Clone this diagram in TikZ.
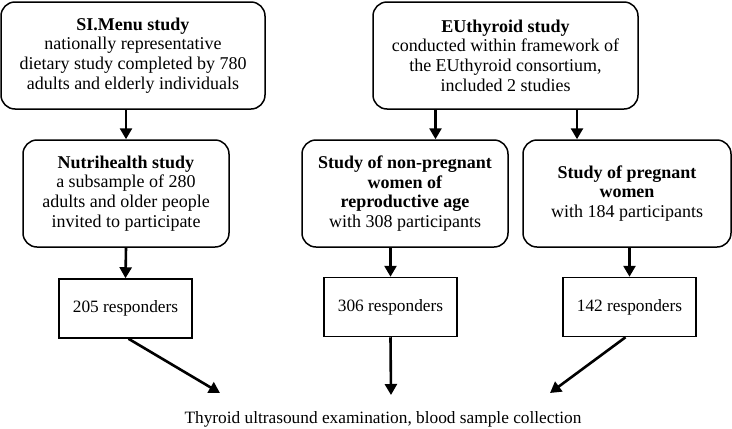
\documentclass[tikz,border=0pt]{standalone}
\usepackage{fontspec}
\setmainfont{Liberation Serif}
\usetikzlibrary{arrows.meta, positioning}

\begin{document}
\begin{tikzpicture}[
    x=1pt, y=-1pt,
    every node/.style={align=center, font=\fontsize{17.3}{20}\selectfont},
    studybox/.style={rectangle, draw, line width=1.5pt, rounded corners=14pt, minimum height=107pt, inner sep=2pt, font=\fontsize{18}{19.7}\selectfont},
    countbox/.style={rectangle, draw, line width=1.5pt, minimum width=133pt, minimum height=59pt},
    >={Triangle[length=11pt, width=12pt]},
    flow/.style={->, line width=2.6pt}
]
\useasboundingbox (0,0) rectangle (732,429);

% Nodes
\node[studybox, minimum width=264pt] (simenu) at (133,55.5) {\textbf{SI.Menu study}\\ nationally representative\\ dietary study completed by 780\\ adults and elderly individuals};
\node[studybox, minimum width=265pt] (euthyroid) at (505.5,55.5) {\textbf{EUthyroid study}\\ conducted within framework of\\ the EUthyroid consortium,\\ included 2 studies};
\node[studybox, minimum width=206pt] (nutri) at (126,193.5) {\textbf{Nutrihealth study}\\ a subsample of 280\\ adults and older people\\ invited to participate};
\node[studybox, minimum width=206pt] (nonpreg) at (405,193.5) {\textbf{Study of non-pregnant}\\ \textbf{women of}\\ \textbf{reproductive age}\\ with 308 participants};
\node[studybox, minimum width=208pt] (preg) at (627,193.5) {\textbf{Study of pregnant}\\ \textbf{women}\\ with 184 participants};
\node[countbox] (resp205) at (125.5,308.5) {205 responders};
\node[countbox] (resp306) at (390.5,307) {306 responders};
\node[countbox] (resp142) at (629.5,307) {142 responders};
\node (exam) at (383,419) {Thyroid ultrasound examination, blood sample collection};
\coordinate (endleft) at (220,393);
\coordinate (endmid) at (391,395);
\coordinate (endright) at (550,393);

% Arrows
\draw[flow] (simenu.south -| nutri.north) -- (nutri.north);
\draw[flow] ([xshift=-70pt]euthyroid.south) -- ([xshift=-70pt]euthyroid.south |- nonpreg.north);
\draw[flow] ([xshift=71.5pt]euthyroid.south) -- ([xshift=71.5pt]euthyroid.south |- preg.north);
\draw[flow] (nutri.south) -- (resp205.north);
\draw[flow] (nonpreg.south -| resp306.north) -- (resp306.north);
\draw[flow] (preg.south -| resp142.north) -- (resp142.north);
\draw[flow] ([xshift=3pt]resp205.south) -- (endleft);
\draw[flow] (resp306.south) -- (endmid);
\draw[flow] ([xshift=-4pt]resp142.south) -- (endright);

\end{tikzpicture}
\end{document}
